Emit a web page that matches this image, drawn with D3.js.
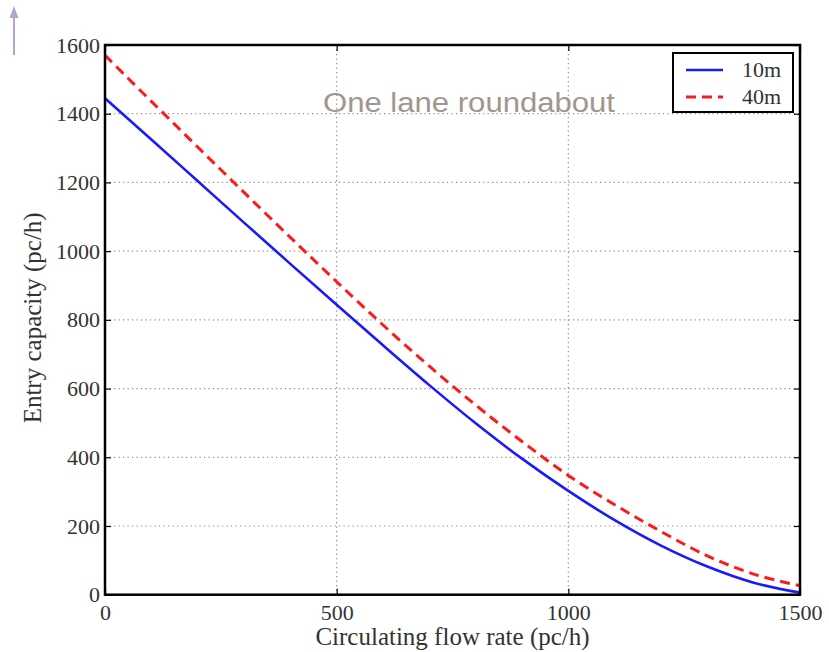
<!DOCTYPE html>
<html lang="en">
<head>
<meta charset="UTF-8">
<title>One lane roundabout</title>
<script src="https://cdn.jsdelivr.net/npm/d3@7"></script>
<style>
    body { margin: 0; background: #fff; }
    svg { display: block; }
</style>
</head>
<body>
<div id="output"></div>
<script>

// circulating flow rate (pc/h)
var flow = [0, 100, 200, 300, 400, 500, 600, 700, 800, 900, 1000, 1100, 1200, 1300, 1400, 1500];
// entry capacity (pc/h)
var cap10m = [1445, 1325, 1204, 1083, 963, 844, 726, 610, 499, 396, 302, 217, 143, 82, 35, 6];
var cap40m = [1570, 1436, 1303, 1171, 1040, 911, 785, 665, 552, 446, 347, 262, 184, 113, 60, 26];
var seriesNames = ["10m", "40m"];
var xTicks = [0, 500, 1000, 1500];
var yTicks = [0, 200, 400, 600, 800, 1000, 1200, 1400, 1600];

var w = 829, h = 652;
var plotLeft = 105, plotRight = 800, plotTop = 45, plotBottom = 594.7;

var svg = d3.select("#output").append("svg")
        .attr("width", w)
        .attr("height", h)
        .style("background-color", "#ffffff");

var xScale = d3.scaleLinear().domain([0, 1500]).range([plotLeft, plotRight]);
var yScale = d3.scaleLinear().domain([0, 1600]).range([plotBottom, plotTop]);

var serif = "'Liberation Serif', 'Times New Roman', serif";

// dotted grid
var grid = svg.append("g");
grid.selectAll("line.gy")
        .data(yTicks.slice(1, -1))
        .enter().append("line")
        .attr("class", "gy")
        .attr("x1", plotLeft).attr("x2", plotRight)
        .attr("y1", function(d){ return yScale(d); })
        .attr("y2", function(d){ return yScale(d); });
grid.selectAll("line.gx")
        .data(xTicks.slice(1, -1))
        .enter().append("line")
        .attr("class", "gx")
        .attr("y1", plotTop).attr("y2", plotBottom)
        .attr("x1", function(d){ return xScale(d); })
        .attr("x2", function(d){ return xScale(d); });
grid.selectAll("line")
        .attr("stroke", "#8a8a8a")
        .attr("stroke-width", 1.2)
        .attr("stroke-dasharray", "1.2,3.3");

// title inside plot
svg.append("text")
        .attr("x", 323)
        .attr("y", 112)
        .attr("textLength", 292)
        .attr("lengthAdjust", "spacingAndGlyphs")
        .style("font-family", "'Liberation Sans', Arial, sans-serif")
        .style("font-size", "27px")
        .attr("fill", "#a0968e")
        .text("One lane roundabout");

// curves
var line = d3.line()
        .x(function(d){ return xScale(d[0]); })
        .y(function(d){ return yScale(d[1]); })
        .curve(d3.curveCatmullRom);

svg.append("path")
        .attr("d", line(d3.zip(flow, cap10m)))
        .attr("fill", "none")
        .attr("stroke", "#1a1aff")
        .attr("stroke-width", 2.6);

svg.append("path")
        .attr("d", line(d3.zip(flow, cap40m)))
        .attr("fill", "none")
        .attr("stroke", "#ff1a1a")
        .attr("stroke-width", 3)
        .attr("stroke-dasharray", "10,6");

// axes with inward ticks, mirrored on the opposite sides
var tickLen = 6;
var fmt = d3.format("d");
svg.append("g")
        .attr("transform", "translate(0," + plotBottom + ")")
        .call(d3.axisBottom(xScale).tickValues(xTicks).tickFormat(fmt).tickSizeInner(-tickLen).tickSizeOuter(0).tickPadding(10))
        .call(styleAxis);
svg.append("g")
        .attr("transform", "translate(0," + plotTop + ")")
        .call(d3.axisTop(xScale).tickValues(xTicks).tickSizeInner(-tickLen).tickSizeOuter(0).tickFormat(""))
        .call(styleAxis);
svg.append("g")
        .attr("transform", "translate(" + plotLeft + ",0)")
        .call(d3.axisLeft(yScale).tickValues(yTicks).tickFormat(fmt).tickSizeInner(-tickLen).tickSizeOuter(0).tickPadding(5))
        .call(styleAxis);
svg.append("g")
        .attr("transform", "translate(" + plotRight + ",0)")
        .call(d3.axisRight(yScale).tickValues(yTicks).tickSizeInner(-tickLen).tickSizeOuter(0).tickFormat(""))
        .call(styleAxis);

function styleAxis(g) {
    g.select(".domain").remove();
    g.selectAll("line").attr("stroke", "#000").attr("stroke-width", 1.2);
    g.selectAll("text")
            .style("font-family", serif)
            .style("font-size", "22px")
            .attr("fill", "#333");
}

// frame
svg.append("rect")
        .attr("x", plotLeft).attr("y", plotTop)
        .attr("width", plotRight - plotLeft).attr("height", plotBottom - plotTop)
        .attr("fill", "none")
        .attr("stroke", "#000")
        .attr("stroke-width", 2.5);

// axis labels
svg.append("text")
        .attr("x", (plotLeft + plotRight) / 2)
        .attr("y", 645)
        .attr("text-anchor", "middle")
        .style("font-family", serif)
        .style("font-size", "25px")
        .attr("fill", "#333")
        .text("Circulating flow rate (pc/h)");

svg.append("text")
        .attr("transform", "translate(41," + ((plotTop + plotBottom) / 2 - 2) + ") rotate(-90)")
        .attr("text-anchor", "middle")
        .style("font-family", serif)
        .style("font-size", "25px")
        .attr("fill", "#333")
        .text("Entry capacity (pc/h)");

// legend
var lg = svg.append("g");
lg.append("rect")
        .attr("x", 673).attr("y", 53)
        .attr("width", 120).attr("height", 59)
        .attr("fill", "#fff")
        .attr("stroke", "#000")
        .attr("stroke-width", 2);
var legendItems = [
    { name: seriesNames[0], color: "#1a1aff", dash: null, width: 2.6 },
    { name: seriesNames[1], color: "#ff1a1a", dash: "10,6", width: 3 }
];
var item = lg.selectAll("g.item")
        .data(legendItems)
        .enter().append("g")
        .attr("class", "item")
        .attr("transform", function(d, i){ return "translate(0," + (70 + i * 27) + ")"; });
item.append("line")
        .attr("x1", 686).attr("x2", 723)
        .attr("stroke", function(d){ return d.color; })
        .attr("stroke-width", function(d){ return d.width; })
        .attr("stroke-dasharray", function(d){ return d.dash; });
item.append("text")
        .attr("x", 781)
        .attr("y", 7)
        .attr("text-anchor", "end")
        .style("font-family", serif)
        .style("font-size", "22px")
        .attr("fill", "#333")
        .text(function(d){ return d.name; });

// arrow at the top left
var arrow = svg.append("g").attr("fill", "#b7a3d3").attr("stroke", "#b7a3d3");
arrow.append("line")
        .attr("x1", 14).attr("x2", 14)
        .attr("y1", 55).attr("y2", 14)
        .attr("stroke-width", 2);
arrow.append("path")
        .attr("d", "M14,6 L18.5,18 L9.5,18 Z")
        .attr("stroke", "none");

</script>
</body>
</html>
